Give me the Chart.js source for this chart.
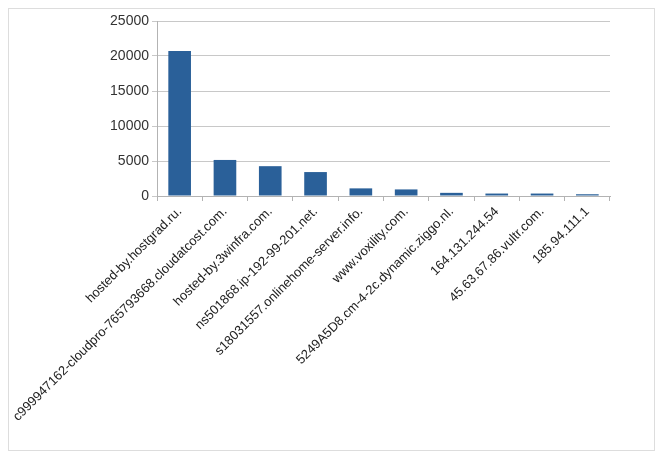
<!DOCTYPE html>
<html><head><script src="https://cdn.jsdelivr.net/npm/chart.js"></script>
<style>body{margin:0;background:#fff}#w{position:absolute;left:0;top:0;width:665px;height:461px}#b{position:absolute;left:8px;top:8px;width:647px;height:443px;border:1px solid #ddd;box-sizing:border-box}</style>
</head><body><div id="b"></div><div id="w"><canvas id="c"></canvas></div>
<script>
const categories=["hosted-by.hostgrad.ru.","c999947162-cloudpro-765793668.cloudatcost.com.","hosted-by.3winfra.com.","ns501868.ip-192-99-201.net.","s18031557.onlinehome-server.info.","www.voxility.com.","5249A5D8.cm-4-2c.dynamic.ziggo.nl.","164.131.244.54","45.63.67.86.vultr.com.","185.94.111.1"];
const values=[20700,5150,4260,3420,1090,940,450,350,350,250];
new Chart(document.getElementById('c'),{type:'bar',
data:{labels:categories,datasets:[{data:values,backgroundColor:'#2a6099',barPercentage:0.5,categoryPercentage:1}]},
options:{responsive:true,maintainAspectRatio:false,animation:false,
layout:{padding:{top:21,right:55,left:0,bottom:0}},
plugins:{legend:{display:false},tooltip:{enabled:false}},
scales:{
x:{afterFit:s=>{s.height=265},grid:{offset:true,drawOnChartArea:false,tickLength:5,color:'#b3b3b3'},border:{color:'#b3b3b3'},
ticks:{minRotation:45,maxRotation:45,autoSkip:false,color:'#222',font:{family:'Liberation Sans',size:13}}},
y:{min:0,max:25000,afterFit:s=>{s.width=157},grid:{color:'#c8c8c8',tickLength:5},border:{color:'#b3b3b3'},
ticks:{stepSize:5000,callback:v=>String(v),color:'#333',font:{family:'Liberation Sans',size:14}}}}}});
</script></body></html>
